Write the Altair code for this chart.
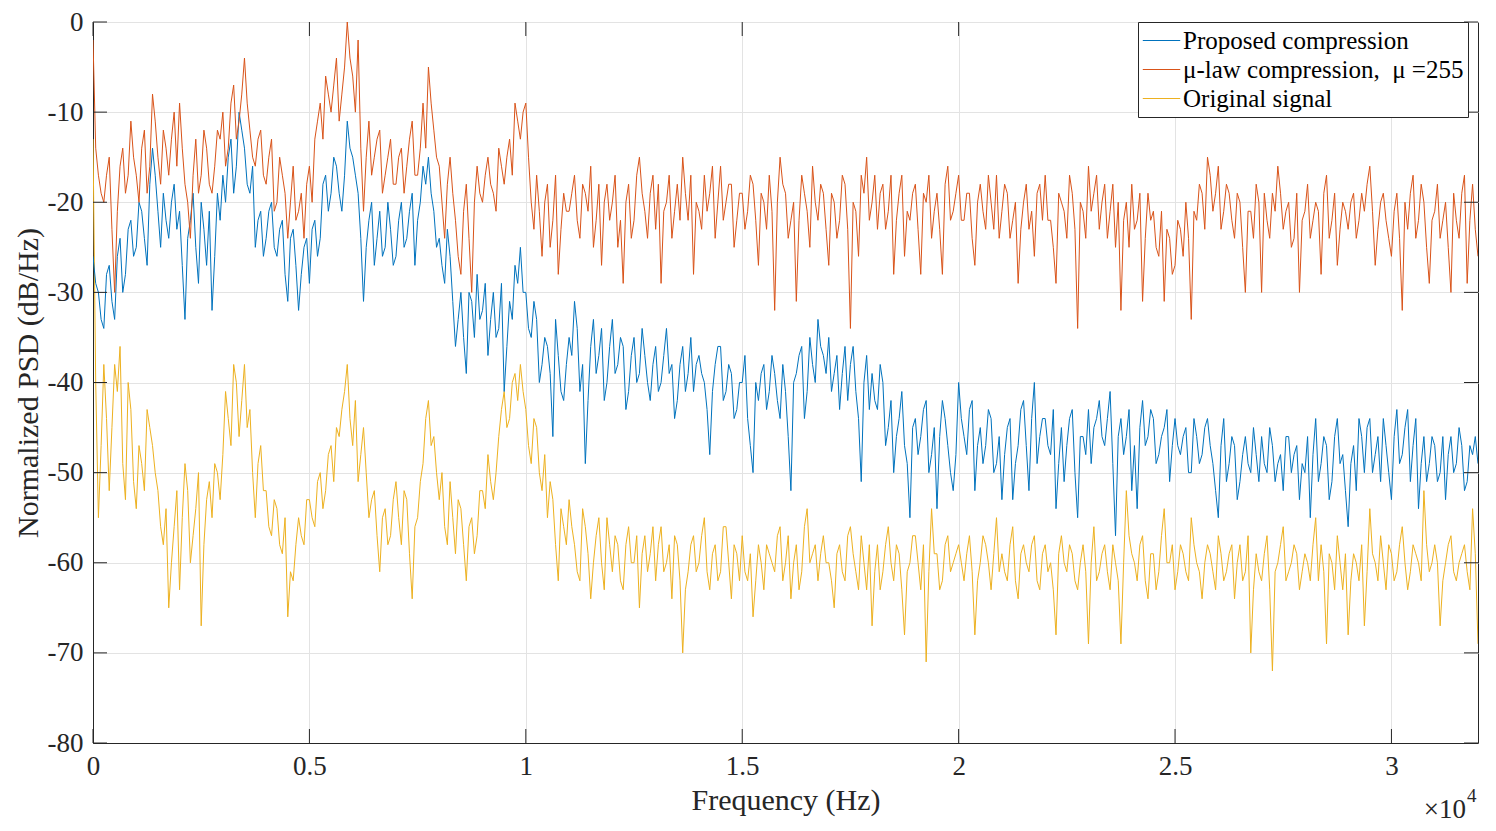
import altair as alt
import pandas as pd

# frequency grids (Hz): main points every 125 Hz, in-between points offset by 62.5 Hz
freq = [i * 125 for i in range(257)]
freq_mid = [i * 125 + 62.5 for i in range(256)]

proposed = [
    -26, -30, -34, -27, -33, -24, -28, -22,
    -25, -21, -27, -14, -21, -19, -24, -18,
    -21, -33, -22, -25, -20, -27, -32, -19,
    -17, -15, -19, -10, -14, -19, -25, -21,
    -24, -20, -26, -22, -31, -23, -32, -25,
    -29, -22, -24, -17, -19, -16, -21, -11,
    -15, -19, -31, -22, -27, -21, -25, -23,
    -26, -20, -24, -19, -22, -16, -15, -21,
    -24, -29, -26, -36, -30, -39, -31, -28,
    -32, -37, -30, -34, -41, -31, -27, -25,
    -30, -35, -33, -38, -36, -46, -37, -42,
    -35, -31, -41, -49, -36, -39, -34, -40,
    -33, -38, -36, -41, -35, -39, -37, -42,
    -36, -40, -34, -38, -42, -36, -39, -41,
    -37, -40, -48, -38, -36, -41, -39, -43,
    -40, -44, -50, -42, -38, -41, -39, -44,
    -41, -52, -39, -36, -41, -38, -33, -37,
    -35, -39, -43, -36, -38, -41, -51, -37,
    -39, -43, -40, -45, -50, -44, -47, -55,
    -44, -46, -42, -48, -54, -42, -47, -52,
    -40, -46, -43, -52, -45, -47, -44, -49,
    -53, -45, -53, -47, -42, -52, -40, -46,
    -44, -48, -54, -45, -47, -43, -55, -46,
    -43, -45, -42, -47, -41, -57, -44, -46,
    -52, -54, -42, -46, -44, -48, -45, -51,
    -44, -48, -45, -50, -46, -48, -44, -49,
    -55, -44, -49, -47, -51, -46, -50, -48,
    -46, -50, -47, -49, -52, -46, -48, -53,
    -50, -55, -44, -49, -47, -51, -44, -48,
    -56, -47, -44, -50, -44, -48, -51, -47,
    -53, -43, -48, -43, -47, -54, -46, -49,
    -47, -50, -53, -46, -49, -47, -51, -48, -49,
]
proposed_mid = [
    -29, -33, -28, -31, -26, -30, -23, -26,
    -20, -24, -18, -17, -25, -22, -20, -23,
    -27, -24, -19, -29, -23, -21, -26, -22,
    -20, -13, -16, -12, -18, -16, -22, -26,
    -21, -25, -23, -28, -24, -27, -28, -24,
    -23, -26, -18, -21, -15, -19, -17, -14,
    -17, -24, -25, -20, -24, -26, -20, -27,
    -22, -25, -21, -27, -20, -18, -19, -25,
    -27, -23, -31, -33, -35, -30, -35, -33,
    -29, -33, -35, -29, -36, -33, -29, -30,
    -34, -31, -40, -35, -39, -33, -41, -38,
    -37, -34, -38, -42, -33, -37, -42, -36,
    -39, -35, -43, -37, -40, -34, -40, -38,
    -41, -37, -39, -44, -38, -41, -35, -38,
    -39, -43, -41, -36, -42, -38, -44, -40,
    -37, -47, -40, -39, -43, -37, -42, -38,
    -46, -40, -37, -44, -35, -40, -36, -39,
    -41, -37, -39, -42, -36, -44, -40, -43,
    -42, -38, -47, -42, -46, -41, -49, -45,
    -48, -43, -50, -45, -46, -44, -50, -48,
    -44, -48, -42, -47, -49, -43, -50, -46,
    -48, -44, -49, -43, -47, -44, -49, -44,
    -47, -43, -49, -51, -44, -50, -46, -48,
    -49, -44, -46, -44, -49, -46, -48, -43,
    -47, -45, -47, -43, -49, -46, -43, -47,
    -47, -46, -50, -44, -49, -45, -47, -52,
    -47, -51, -46, -53, -48, -49, -45, -51,
    -49, -45, -51, -48, -46, -50, -47, -49,
    -46, -48, -51, -46, -53, -46, -49, -52,
    -49, -52, -46, -45, -50, -46, -44, -50,
    -46, -49, -45, -51, -44, -49, -51, -46,
    -51, -46, -48, -50, -45, -52, -47, -46,
]

mulaw = [
    -2, -17, -20, -15, -30, -16, -19, -11,
    -17, -14, -19, -8, -15, -12, -17, -10,
    -9, -18, -24, -13, -17, -14, -19, -12,
    -10, -14, -7, -11, -4, -12, -16, -12,
    -18, -13, -20, -17, -24, -16, -21, -24,
    -16, -13, -9, -6, -10, -4, -8, 0,
    -6, -2, -21, -11, -15, -12, -17, -13,
    -18, -14, -16, -11, -17, -9, -5, -12,
    -16, -24, -15, -22, -28, -18, -30, -16,
    -20, -15, -19, -14, -18, -13, -9, -13,
    -9, -20, -17, -26, -18, -22, -28, -19,
    -21, -17, -24, -19, -16, -22, -27, -18,
    -20, -25, -29, -18, -22, -15, -21, -19,
    -23, -29, -20, -24, -18, -15, -22, -28,
    -21, -17, -19, -24, -16, -20, -18, -22,
    -19, -21, -18, -27, -20, -17, -32, -15,
    -19, -22, -31, -17, -21, -16, -22, -19,
    -27, -20, -22, -18, -34, -21, -17, -15,
    -20, -23, -18, -21, -28, -19, -26, -22,
    -18, -28, -20, -24, -19, -28, -16, -21,
    -17, -22, -19, -27, -18, -23, -20, -17,
    -21, -19, -22, -29, -20, -23, -26, -18,
    -17, -22, -29, -20, -24, -19, -34, -21,
    -16, -19, -23, -18, -21, -25, -32, -20,
    -18, -22, -31, -19, -21, -26, -31, -24,
    -27, -23, -20, -33, -22, -19, -15, -21,
    -16, -21, -19, -24, -20, -30, -21, -18,
    -30, -22, -19, -16, -23, -20, -24, -30,
    -21, -24, -20, -28, -17, -22, -27, -20,
    -23, -19, -22, -21, -16, -27, -20, -22,
    -26, -19, -32, -23, -17, -22, -20, -29,
    -21, -24, -20, -30, -22, -19, -29, -18, -26,
]
mulaw_mid = [
    -14, -19, -17, -23, -21, -14, -17, -15,
    -20, -12, -16, -11, -18, -14, -13, -16,
    -14, -20, -17, -19, -12, -18, -16, -13,
    -16, -9, -13, -8, -9, -15, -13, -17,
    -15, -21, -15, -19, -20, -22, -19, -18,
    -20, -11, -13, -8, -7, -11, -5, -4,
    -10, -14, -15, -17, -13, -19, -15, -18,
    -15, -19, -13, -17, -14, -14, -9, -15,
    -20, -18, -19, -26, -21, -24, -20, -19,
    -17, -18, -21, -16, -15, -17, -11, -10,
    -15, -23, -21, -20, -25, -17, -23, -21,
    -19, -22, -18, -21, -25, -18, -20, -22,
    -17, -22, -20, -24, -17, -19, -24, -17,
    -18, -21, -17, -21, -22, -19, -17, -20,
    -23, -21, -16, -20, -22, -18, -25, -19,
    -23, -17, -22, -19, -23, -21, -20, -18,
    -24, -20, -22, -19, -25, -20, -18, -23,
    -19, -24, -17, -23, -20, -26, -19, -22,
    -17, -19, -23, -17, -22, -17, -21, -19,
    -23, -19, -17, -21, -23, -18, -22, -19,
    -22, -19, -24, -20, -21, -17, -23, -24,
    -18, -24, -20, -23, -18, -21, -19, -22,
    -22, -25, -19, -21, -17, -23, -20, -24,
    -21, -17, -20, -24, -18, -20, -22, -25,
    -23, -19, -24, -22, -25, -21, -23, -28,
    -22, -26, -24, -21, -18, -23, -17, -19,
    -23, -18, -22, -19, -25, -21, -24, -20,
    -19, -24, -21, -19, -21, -25, -19, -22,
    -18, -22, -21, -19, -24, -19, -23, -21,
    -20, -24, -19, -18, -21, -23, -19, -24,
    -21, -24, -20, -19, -24, -18, -25, -22,
    -18, -22, -25, -19, -24, -17, -22, -23,
]

original = [
    -13, -55, -38, -52, -38, -36, -53, -43,
    -54, -49, -43, -47, -52, -58, -65, -56,
    -63, -49, -60, -54, -67, -53, -55, -50,
    -48, -44, -38, -46, -38, -43, -55, -47,
    -52, -57, -54, -59, -66, -62, -55, -58,
    -53, -56, -50, -52, -47, -45, -43, -38,
    -47, -51, -45, -55, -52, -61, -54, -57,
    -51, -58, -53, -64, -55, -49, -42, -46,
    -53, -56, -51, -59, -54, -62, -55, -57,
    -52, -48, -53, -46, -41, -44, -39, -38,
    -43, -49, -45, -52, -55, -53, -62, -56,
    -53, -58, -62, -56, -64, -57, -60, -55,
    -61, -58, -63, -56, -60, -65, -57, -59,
    -62, -56, -60, -64, -58, -70, -61, -57,
    -60, -55, -63, -58, -61, -56, -64, -59,
    -57, -62, -66, -58, -63, -59, -61, -56,
    -60, -64, -58, -61, -54, -59, -62, -57,
    -60, -65, -58, -62, -56, -61, -57, -63,
    -67, -58, -61, -56, -62, -59, -68, -60,
    -57, -63, -71, -54, -59, -62, -57, -60,
    -58, -62, -57, -68, -60, -58, -63, -55,
    -59, -62, -56, -64, -58, -61, -57, -63,
    -58, -60, -68, -57, -61, -59, -63, -58,
    -69, -56, -61, -58, -63, -60, -69, -52,
    -59, -62, -57, -64, -59, -61, -54, -60,
    -63, -58, -61, -55, -60, -64, -58, -61,
    -57, -62, -59, -64, -58, -61, -70, -59,
    -62, -57, -72, -60, -56, -61, -58, -63,
    -59, -62, -55, -58, -69, -60, -57, -63,
    -68, -59, -62, -67, -54, -60, -57, -63,
    -59, -61, -56, -63, -58, -60, -52, -61,
    -58, -67, -60, -57, -62, -59, -61, -54, -69,
]
original_mid = [
    -40, -47, -44, -45, -41, -49, -40, -51,
    -47, -52, -45, -50, -56, -54, -60, -52,
    -55, -52, -57, -50, -58, -51, -49, -53,
    -41, -47, -40, -42, -45, -50, -49, -52,
    -56, -53, -58, -55, -61, -58, -57, -53,
    -55, -51, -54, -48, -51, -46, -41, -44,
    -42, -48, -50, -53, -57, -55, -58, -53,
    -55, -52, -59, -56, -51, -44, -47, -50,
    -50, -58, -55, -53, -58, -56, -59, -52,
    -54, -51, -50, -43, -45, -40, -42, -41,
    -47, -44, -50, -48, -51, -58, -54, -58,
    -56, -61, -54, -59, -60, -55, -63, -58,
    -57, -62, -58, -60, -57, -59, -61, -56,
    -58, -61, -58, -57, -62, -63, -58, -61,
    -57, -61, -59, -62, -56, -60, -58, -62,
    -61, -59, -62, -60, -58, -60, -57, -62,
    -57, -60, -63, -56, -60, -58, -59, -60,
    -62, -59, -61, -57, -59, -63, -60, -58,
    -61, -63, -58, -60, -58, -63, -61, -57,
    -60, -58, -61, -59, -63, -58, -61, -59,
    -60, -59, -61, -62, -57, -60, -59, -61,
    -61, -58, -62, -59, -60, -58, -62, -59,
    -61, -63, -59, -60, -58, -62, -60, -61,
    -60, -62, -59, -61, -58, -62, -60, -57,
    -60, -58, -62, -59, -63, -57, -60, -58,
    -61, -59, -62, -58, -61, -60, -59, -63,
    -59, -61, -58, -60, -62, -57, -63, -61,
    -59, -63, -61, -58, -62, -60, -59, -61,
    -60, -58, -62, -61, -59, -63, -60, -59,
    -62, -60, -58, -61, -59, -62, -60, -58,
    -62, -58, -60, -61, -59, -62, -58, -60,
    -60, -62, -58, -61, -60, -58, -63, -59,
]

series_names = ["Proposed compression",
                "\u03bc-law compression,\u00a0 \u03bc =255",
                "Original signal"]
series_colors = ["#0072BD", "#D95319", "#EDB120"]

x_ticks = [0, 5000, 10000, 15000, 20000, 25000, 30000]
y_ticks = [-80, -70, -60, -50, -40, -30, -20, -10, 0]

assert len(freq) == len(proposed) == len(mulaw) == len(original)
assert len(freq_mid) == len(proposed_mid) == len(mulaw_mid) == len(original_mid)

rows = []
for name, vals, mids in zip(series_names,
                            [proposed, mulaw, original],
                            [proposed_mid, mulaw_mid, original_mid]):
    for f, v in zip(freq, vals):
        rows.append({"freq": f, "value": v, "series": name})
    for f, v in zip(freq_mid, mids):
        rows.append({"freq": f, "value": v, "series": name})
df = pd.DataFrame(rows).sort_values(["series", "freq"]).reset_index(drop=True)

W, H = 1385, 721
FONT = "Liberation Serif"
AX = "#262626"
TICK = 14

xscale = alt.Scale(domain=[0, 32000], nice=False, zero=False)
yscale = alt.Scale(domain=[-80, 0], nice=False)

lines = alt.Chart(df).mark_line(strokeWidth=1.0, clip=True).encode(
    x=alt.X("freq:Q", scale=xscale,
            axis=alt.Axis(values=x_ticks, labelExpr="'' + datum.value / 10000",
                          title="Frequency (Hz)", grid=True, ticks=False,
                          labelFlush=False,
                          labelPadding=10, titlePadding=6)),
    y=alt.Y("value:Q", scale=yscale,
            axis=alt.Axis(values=y_ticks,
                          labelExpr="datum.value < 0 ? '-' + abs(datum.value) : '' + datum.value",
                          title="Normalized PSD (dB/Hz)", grid=True, ticks=False,
                          labelFlush=False,
                          labelPadding=10, titlePadding=4)),
    color=alt.Color("series:N",
                    scale=alt.Scale(domain=series_names, range=series_colors),
                    sort=series_names,
                    legend=alt.Legend(title=None, orient="none", legendX=1045, legendY=0,
                                      symbolType="stroke", symbolSize=1400,
                                      symbolStrokeWidth=1.2, clipHeight=29,
                                      rowPadding=0, labelOffset=2,
                                      labelFont=FONT, labelFontSize=25,
                                      labelColor="#000000", labelLimit=400,
                                      strokeColor=AX, fillColor="#ffffff",
                                      padding=4)),
)

ydf = pd.DataFrame({"value": y_ticks})
xdf = pd.DataFrame({"freq": x_ticks})

ytick_left = alt.Chart(ydf).mark_rule(color=AX, strokeWidth=1).encode(
    y=alt.Y("value:Q", scale=yscale), x=alt.value(0), x2=alt.value(TICK))
ytick_right = alt.Chart(ydf).mark_rule(color=AX, strokeWidth=1).encode(
    y=alt.Y("value:Q", scale=yscale), x=alt.value(W - TICK), x2=alt.value(W))
xtick_bottom = alt.Chart(xdf).mark_rule(color=AX, strokeWidth=1).encode(
    x=alt.X("freq:Q", scale=xscale), y=alt.value(H - TICK), y2=alt.value(H))
xtick_top = alt.Chart(xdf).mark_rule(color=AX, strokeWidth=1).encode(
    x=alt.X("freq:Q", scale=xscale), y=alt.value(0), y2=alt.value(TICK))

mult = alt.Chart(pd.DataFrame({"t": ["\u00d710"]})).mark_text(
    font=FONT, fontSize=27, color=AX, align="right", baseline="middle").encode(
    text="t:N", x=alt.value(W - 12), y=alt.value(H + 67))
expo = alt.Chart(pd.DataFrame({"t": ["4"]})).mark_text(
    font=FONT, fontSize=19, color=AX, align="left", baseline="middle").encode(
    text="t:N", x=alt.value(W - 11), y=alt.value(H + 53))

chart = alt.layer(lines, ytick_left, ytick_right, xtick_bottom, xtick_top, mult, expo).properties(
    width=W, height=H,
    autosize=alt.AutoSizeParams(type="none"),
    padding={"left": 85, "top": 14, "right": 10, "bottom": 80},
).configure_view(
    stroke=AX, strokeWidth=1
).configure_axis(
    labelFont=FONT, labelFontSize=27, labelColor=AX,
    titleFont=FONT, titleFontSize=30, titleFontWeight="normal", titleColor=AX,
    domainColor=AX, domainWidth=1, gridColor="#e3e3e3", gridWidth=1
)

chart.save("out.html", embed_options={"renderer": "svg", "actions": False})
